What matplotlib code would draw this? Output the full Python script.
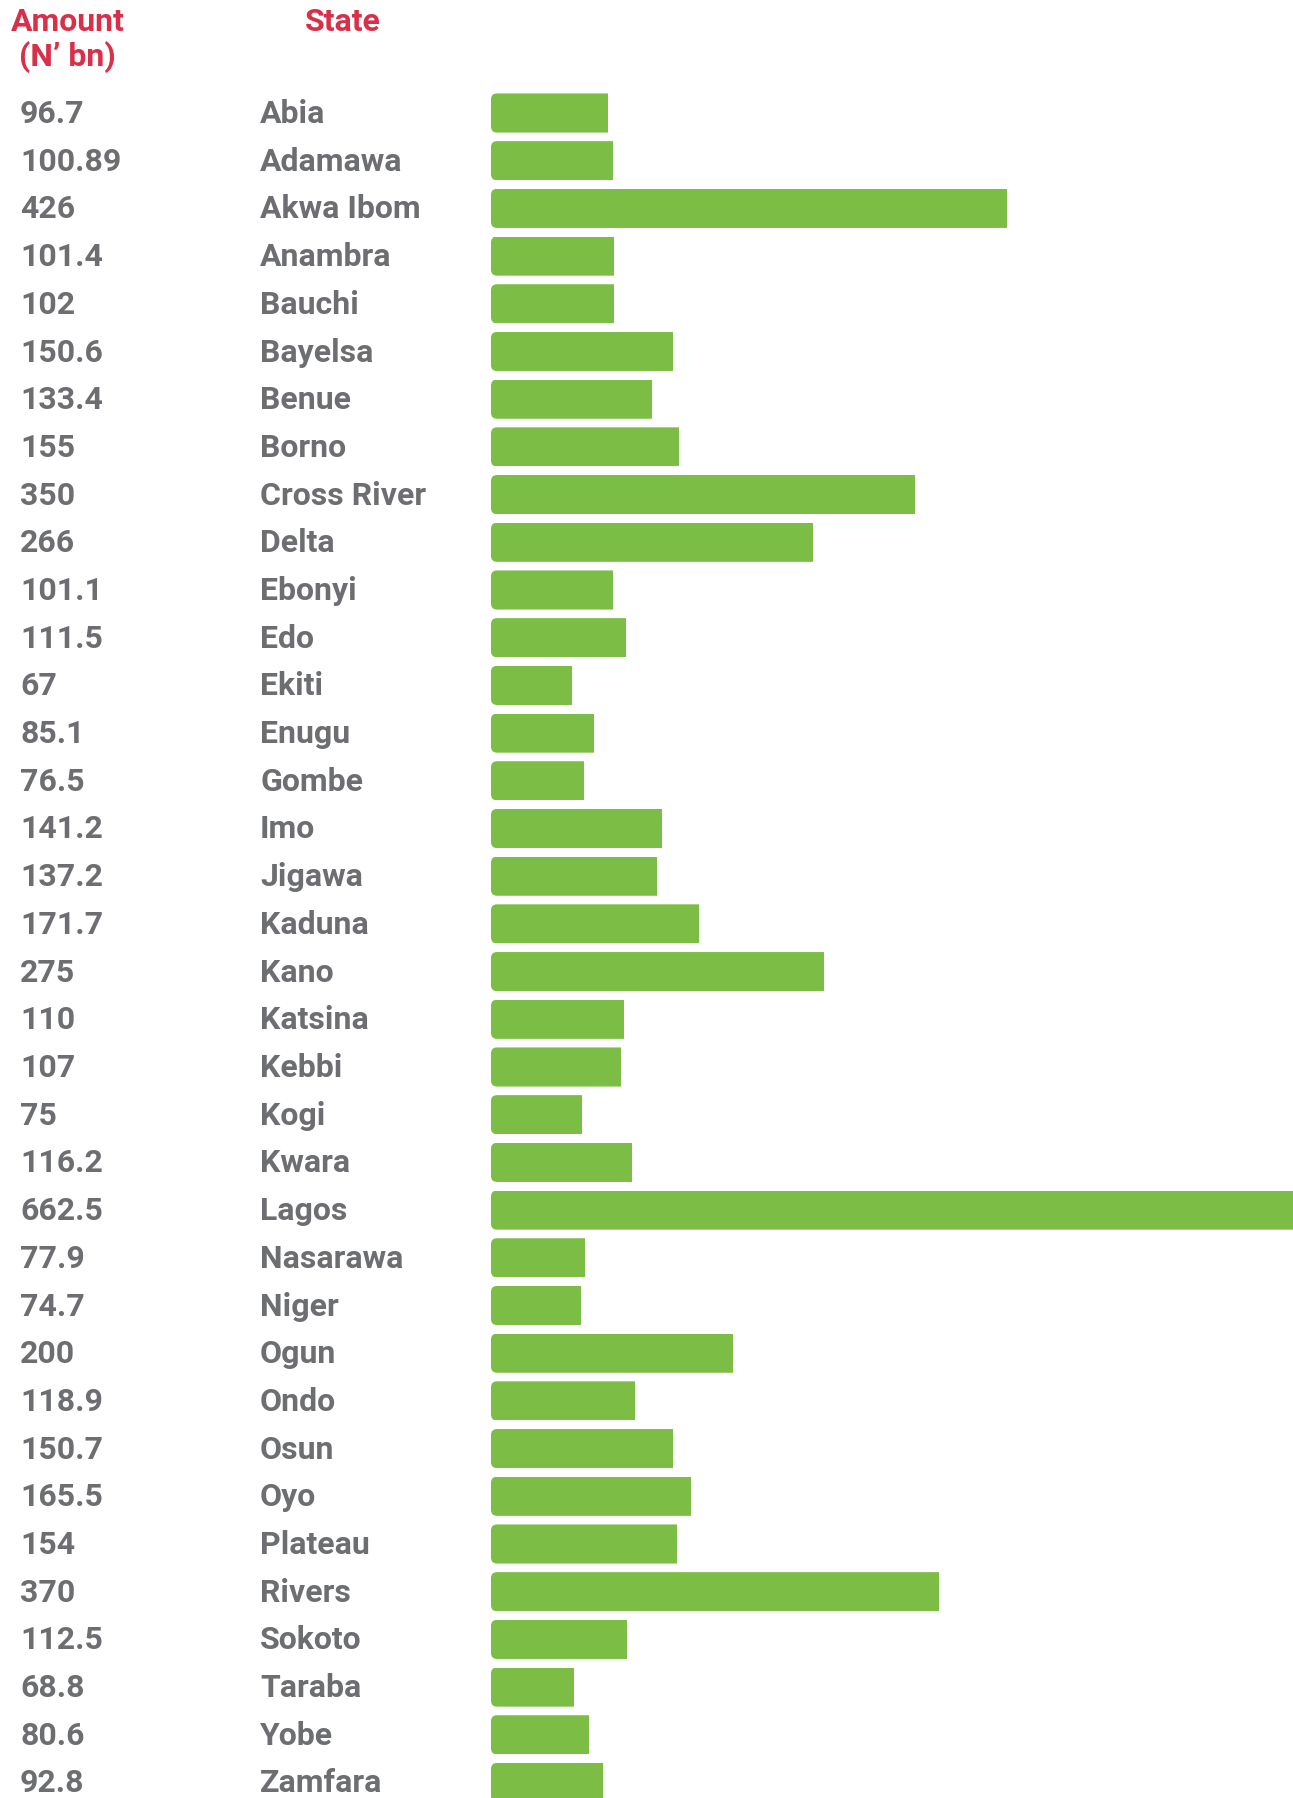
import matplotlib.pyplot as plt
from matplotlib.patches import FancyBboxPatch
from matplotlib.transforms import blended_transform_factory

# Data
states = ["Abia", "Adamawa", "Akwa Ibom", "Anambra", "Bauchi", "Bayelsa", "Benue",
          "Borno", "Cross River", "Delta", "Ebonyi", "Edo", "Ekiti", "Enugu", "Gombe",
          "Imo", "Jigawa", "Kaduna", "Kano", "Katsina", "Kebbi", "Kogi", "Kwara",
          "Lagos", "Nasarawa", "Niger", "Ogun", "Ondo", "Osun", "Oyo", "Plateau",
          "Rivers", "Sokoto", "Taraba", "Yobe", "Zamfara"]
amount_labels = ["96.7", "100.89", "426", "101.4", "102", "150.6", "133.4", "155",
                 "350", "266", "101.1", "111.5", "67", "85.1", "76.5", "141.2",
                 "137.2", "171.7", "275", "110", "107", "75", "116.2", "662.5",
                 "77.9", "74.7", "200", "118.9", "150.7", "165.5", "154", "370",
                 "112.5", "68.8", "80.6", "92.8"]
amounts = [float(a) for a in amount_labels]

GREEN = "#7cbd45"
GREY = "#6d6e71"
RED = "#d9304a"

W, H = 1293, 1799
fig = plt.figure(figsize=(W / 100, H / 100), dpi=100)

# pixel layout
bar_left_px = 491
row0_px = 114
row_step = 47.7
ax = fig.add_axes([bar_left_px / W, 0, 1 - bar_left_px / W, 1])
ax.set_xlim(0, max(amounts))
ax.set_ylim((H - row0_px) / row_step, -row0_px / row_step)
ax.axis("off")

rows = list(range(len(states)))
bars = ax.barh(rows, amounts, height=0.82, color=GREEN, linewidth=0)

# rounded left corners: a rounded box sticking out to the right, clipped by the bar
px_x = (W - bar_left_px) / max(amounts)   # pixels per data unit in x
rad = 6 / px_x
for b in bars:
    x0, y0, w, h = b.get_x(), b.get_y(), b.get_width(), b.get_height()
    b.set_alpha(0)
    rb = FancyBboxPatch((x0, y0), w + 3 * rad, h,
                        boxstyle=f"round,pad=0,rounding_size={rad}",
                        mutation_aspect=px_x / row_step,
                        facecolor=GREEN, edgecolor="none")
    ax.add_patch(rb)
    rb.set_clip_path(b)

bt = blended_transform_factory(fig.transFigure, ax.transData)

font = dict(fontfamily="Roboto", fontweight="bold", fontsize=23, color=GREY)
for i, (lab, st) in enumerate(zip(amount_labels, states)):
    ax.text(20 / W, i, lab, transform=bt, ha="left", va="center", **font)
    ax.text(260 / W, i, st, transform=bt, ha="left", va="center", **font)

hdr = dict(fontfamily="Roboto", fontweight="bold", fontsize=23, color=RED)
ax.text(11 / W, (22 - row0_px) / row_step, "Amount", transform=bt,
        ha="left", va="center", **hdr)
ax.text(67 / W, (57 - row0_px) / row_step, "(N\u2019 bn)", transform=bt,
        ha="center", va="center", **hdr)
ax.text(343 / W, (22 - row0_px) / row_step, "State", transform=bt,
        ha="center", va="center", **hdr)

fig.savefig("out.png", dpi=100)
